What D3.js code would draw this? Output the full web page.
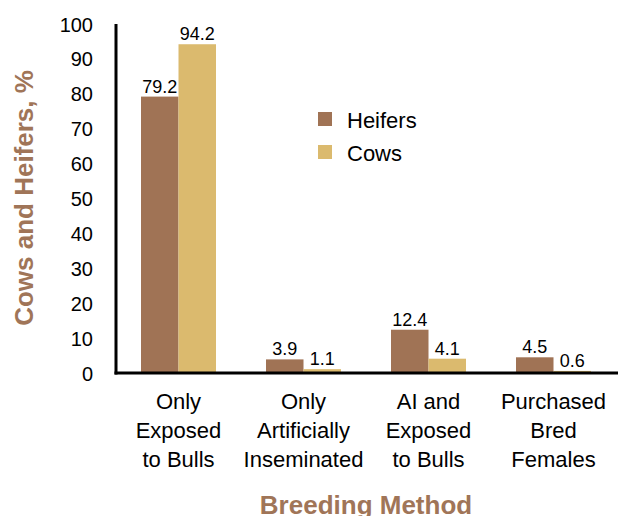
<!DOCTYPE html>
<html><head><meta charset="utf-8">
<script src="https://cdn.jsdelivr.net/npm/d3@7"></script>
<style>body{margin:0;background:#fff}svg{display:block}</style>
</head><body>
<svg id="c" width="618" height="516"></svg>
<script>
const categories = [["Only","Exposed","to Bulls"],["Only","Artificially","Inseminated"],["AI and","Exposed","to Bulls"],["Purchased","Bred","Females"]];
const catKeys = categories.map(c => c.join(" "));
const series = ["Heifers","Cows"];
const heifers = [79.2, 3.9, 12.4, 4.5];
const cows = [94.2, 1.1, 4.1, 0.6];
const yTicks = [0,10,20,30,40,50,60,70,80,90,100];
const colors = ["#A07355","#DBBA6E"];
const titleColor = "#A07558";

const svg = d3.select("#c");
const font = "'Liberation Sans', Arial, Helvetica, sans-serif";
const y = d3.scaleLinear().domain([0,100]).range([373,24]);
const x = d3.scaleBand().domain(catKeys).range([116,616]).paddingInner(0.4).paddingOuter(0.2);
const xs = d3.scaleBand().domain(series).range([0, x.bandwidth()]);
const color = d3.scaleOrdinal().domain(series).range(colors);

const data = catKeys.map((k,i) => ({k, vals: [heifers[i], cows[i]]}));
const g = svg.selectAll("g.grp").data(data).join("g").attr("transform", d => `translate(${x(d.k)},0)`);
g.selectAll("rect").data(d => d.vals.map((v,j)=>({s:series[j], v}))).join("rect")
  .attr("x", d => xs(d.s)).attr("width", xs.bandwidth())
  .attr("y", d => y(d.v)).attr("height", d => y(0)-y(d.v))
  .attr("fill", d => color(d.s));
g.selectAll("text.val").data(d => d.vals.map((v,j)=>({s:series[j], v}))).join("text")
  .attr("class","val")
  .attr("x", d => xs(d.s)+xs.bandwidth()/2).attr("y", d => y(d.v)-4)
  .attr("text-anchor","middle").attr("font-family",font).attr("font-size",18).attr("fill","#000")
  .text(d => d.v.toFixed(1));

// y axis
const ya = svg.append("g").attr("transform","translate(116,0)")
  .call(d3.axisLeft(y).tickValues(yTicks).tickSize(0).tickPadding(23));
ya.select(".domain").attr("stroke","#000").attr("stroke-width",3).attr("d","M0,24V374.5");
ya.selectAll("text").attr("font-family",font).attr("font-size",20).attr("fill","#000").attr("dy","0.35em");

// x axis
const xa = svg.append("g").attr("transform","translate(0,373)")
  .call(d3.axisBottom(x).tickSize(0).tickFormat(""));
xa.select(".domain").attr("stroke","#000").attr("stroke-width",3).attr("d","M114.5,0H618");
xa.selectAll(".tick").each(function(d,i){
  const t = d3.select(this).append("text").attr("font-family",font).attr("font-size",22)
    .attr("fill","#000").attr("text-anchor","middle");
  categories[i].forEach((line,li)=>{
    t.append("tspan").attr("x",0).attr("y",36+li*29).text(line);
  });
});

// axis titles
svg.append("text").attr("transform","translate(33,198) rotate(-90)")
  .attr("text-anchor","middle").attr("font-family",font).attr("font-weight","bold")
  .attr("font-size",26).attr("fill",titleColor).text("Cows and Heifers, %");
svg.append("text").attr("x",366).attr("y",514)
  .attr("text-anchor","middle").attr("font-family",font).attr("font-weight","bold")
  .attr("font-size",26).attr("fill",titleColor).text("Breeding Method");

// legend
const leg = svg.append("g").attr("transform","translate(318,112)");
series.forEach((s,i)=>{
  leg.append("rect").attr("x",0).attr("y",i*33).attr("width",14).attr("height",14).attr("fill",color(s));
  leg.append("text").attr("x",29).attr("y",i*33+16).attr("font-family",font).attr("font-size",22)
    .attr("fill","#000").text(s);
});
</script>
</body></html>
